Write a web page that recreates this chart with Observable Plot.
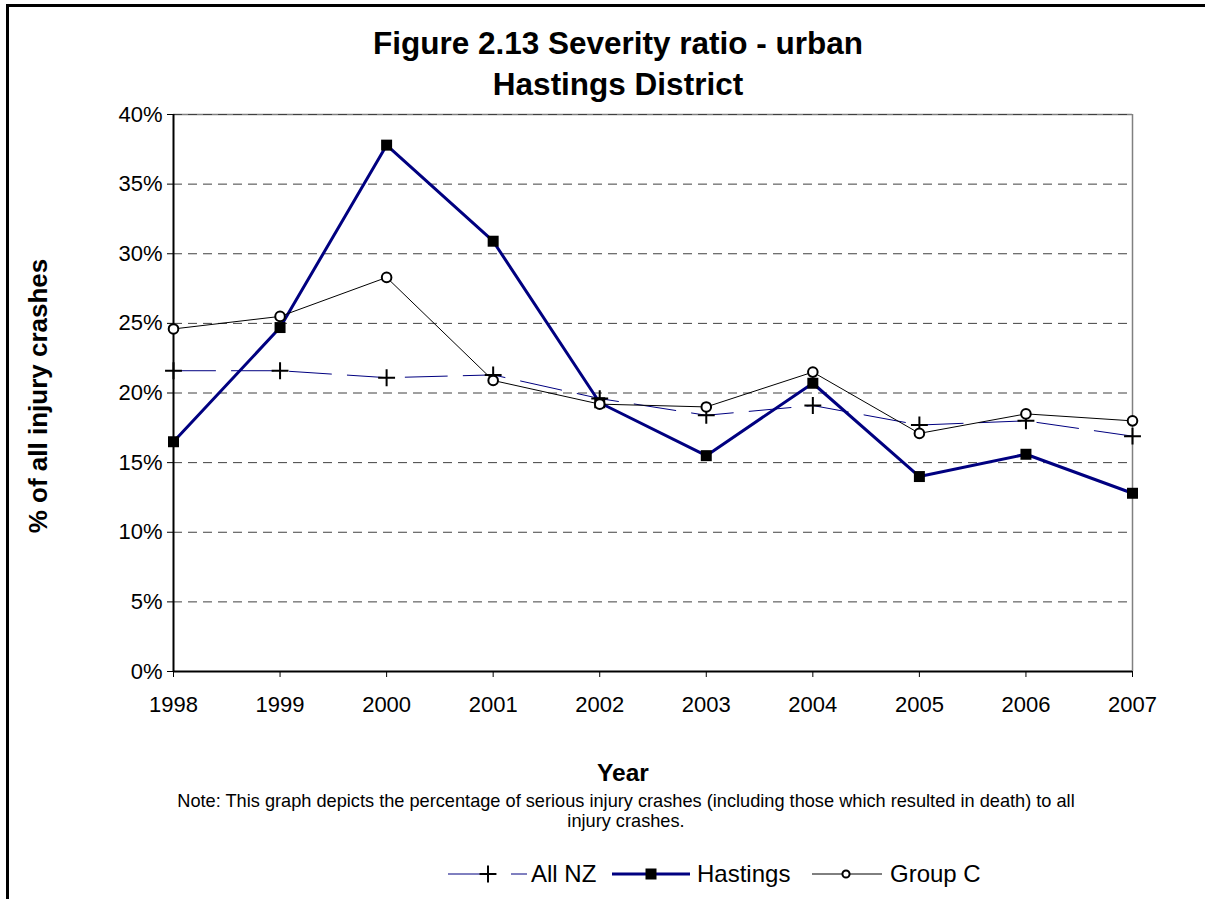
<!DOCTYPE html>
<html>
<head>
<meta charset="utf-8">
<script src="https://cdn.jsdelivr.net/npm/d3@7"></script>
<script src="https://cdn.jsdelivr.net/npm/@observablehq/plot@0.6"></script>
<style>
  html, body { margin: 0; padding: 0; background: #fff; overflow: hidden; }
  body { width: 1205px; height: 899px; font-family: "Liberation Sans", Arial, sans-serif; }
  #wrap { position: relative; width: 1205px; height: 899px; overflow: hidden; }
  #frame { position: absolute; left: 0; top: 0; }
  #chart { position: absolute; left: 0; top: 0; }
  .t { position: absolute; white-space: nowrap; text-align: center; color: #000; }
  #title { left: 318px; width: 600px; top: 23px; font-size: 31.5px; line-height: 41px; font-weight: bold; }
  #ylab { left: 38px; top: 396px; font-size: 26px; font-weight: bold; transform: translate(-50%, -50%) rotate(-90deg); }
  #xlab { left: 423px; width: 400px; top: 759px; font-size: 24.5px; font-weight: bold; line-height: 28px; }
  #note { left: 126px; width: 1000px; top: 791px; font-size: 18.2px; line-height: 20px; white-space: normal; }
  #legend { position: absolute; left: 440px; top: 857px; }
</style>
</head>
<body>
<div id="wrap">
  <svg id="frame" width="1205" height="899">
    <line x1="7.5" y1="5.5" x2="1205" y2="5.5" stroke="#000" stroke-width="3"></line>
    <line x1="7.5" y1="4" x2="7.5" y2="899" stroke="#000" stroke-width="3"></line>
  </svg>
  <div id="chart"></div>
  <div class="t" id="title">Figure 2.13 Severity ratio - urban<br>Hastings District</div>
  <div class="t" id="ylab">% of all injury crashes</div>
  <div class="t" id="xlab">Year</div>
  <div class="t" id="note">Note: This graph depicts the percentage of serious injury crashes (including those which resulted in death) to all<br>injury crashes.</div>
  <div id="legend"></div>
</div>
<script>
const years = [1998, 1999, 2000, 2001, 2002, 2003, 2004, 2005, 2006, 2007];
const allNZ = [21.6, 21.6, 21.1, 21.3, 19.6, 18.4, 19.1, 17.7, 18.0, 16.9];
const hastings = [16.5, 24.7, 37.8, 30.9, 19.3, 15.5, 20.7, 14.0, 15.6, 12.8];
const groupC = [24.6, 25.5, 28.3, 20.9, 19.2, 19.0, 21.5, 17.1, 18.5, 18.0];
const yTicks = [0, 5, 10, 15, 20, 25, 30, 35, 40];
const seriesNames = ["All NZ", "Hastings", "Group C"];

const nz = years.map((y, i) => ({year: y, v: allNZ[i]}));
const ha = years.map((y, i) => ({year: y, v: hastings[i]}));
const gc = years.map((y, i) => ({year: y, v: groupC[i]}));

const NAVY = "#000080";

const plot = Plot.plot({
  width: 1205,
  height: 899,
  marginLeft: 173,
  marginRight: 73,
  marginTop: 114,
  marginBottom: 228,
  style: {fontFamily: '"Liberation Sans", Arial, sans-serif', fontSize: "22px", color: "#000", background: "transparent", overflow: "visible"},
  x: {domain: [1998, 2007]},
  y: {domain: [0, 40]},
  marks: [
    Plot.ruleY(yTicks.filter(d => d > 0 && d < 40), {y: d => d, stroke: "#000", strokeOpacity: 0.75, strokeWidth: 1, strokeDasharray: "9,6"}),
    Plot.ruleY([40], {stroke: "#808080", strokeWidth: 1.5}),
    Plot.ruleY([40], {stroke: "#000", strokeOpacity: 0.5, strokeWidth: 1, strokeDasharray: "9,6"}),
    Plot.ruleX([2007], {stroke: "#808080", strokeWidth: 1.5}),
    Plot.axisY({ticks: yTicks, tickFormat: d => d + "%", tickSize: 6, tickPadding: 5, label: null, fontSize: 22, stroke: "#000"}),
    Plot.axisX({ticks: years, tickFormat: d => String(d), tickSize: 6, tickPadding: 19, label: null, fontSize: 22, stroke: "#000"}),
    Plot.ruleX([1998], {stroke: "#000", strokeWidth: 2}),
    Plot.ruleY([0], {stroke: "#000", strokeWidth: 2}),
    Plot.line(nz, {x: "year", y: "v", stroke: NAVY, strokeWidth: 1, strokeDasharray: "42,16"}),
    Plot.dot(nz, {x: "year", y: "v", symbol: "plus", r: 5.5, stroke: "#000", strokeWidth: 2}),
    Plot.line(ha, {x: "year", y: "v", stroke: NAVY, strokeWidth: 3}),
    Plot.dot(ha, {x: "year", y: "v", symbol: "square", r: 6.2, fill: "#000", stroke: "none"}),
    Plot.line(gc, {x: "year", y: "v", stroke: "#000", strokeWidth: 1}),
    Plot.dot(gc, {x: "year", y: "v", symbol: "circle", r: 4.8, fill: "#fff", stroke: "#000", strokeWidth: 2})
  ]
});
document.getElementById("chart").appendChild(plot);

// Legend
const lg = d3.select("#legend").append("svg").attr("width", 580).attr("height", 34)
  .style("font-family", '"Liberation Sans", Arial, sans-serif');
const cy = 17;
const items = [
  {name: seriesNames[0], x0: 8, x1: 87, mx: 48, tx: 91, stroke: NAVY, sw: 1, dash: "37,26,16,100", sym: d3.symbolPlus, fill: "none", sstroke: "#000", ssw: 2, size: 95},
  {name: seriesNames[1], x0: 172, x1: 250, mx: 211, tx: 257, stroke: NAVY, sw: 3, dash: null, sym: d3.symbolSquare, fill: "#000", sstroke: "none", ssw: 0, size: 121},
  {name: seriesNames[2], x0: 372, x1: 442, mx: 406, tx: 450, stroke: "#000", sw: 1, dash: null, sym: d3.symbolCircle, fill: "#fff", sstroke: "#000", ssw: 2, size: 40}
];
for (const it of items) {
  const ln = lg.append("line").attr("x1", it.x0).attr("x2", it.x1).attr("y1", cy).attr("y2", cy)
    .attr("stroke", it.stroke).attr("stroke-width", it.sw);
  if (it.dash) ln.attr("stroke-dasharray", it.dash);
  lg.append("path").attr("d", d3.symbol(it.sym, it.size)()).attr("transform", `translate(${it.mx},${cy})`)
    .attr("fill", it.fill).attr("stroke", it.sstroke).attr("stroke-width", it.ssw);
  lg.append("text").attr("x", it.tx).attr("y", cy).attr("dy", "0.35em").attr("font-size", 24).text(it.name);
}
</script>
</body>
</html>
